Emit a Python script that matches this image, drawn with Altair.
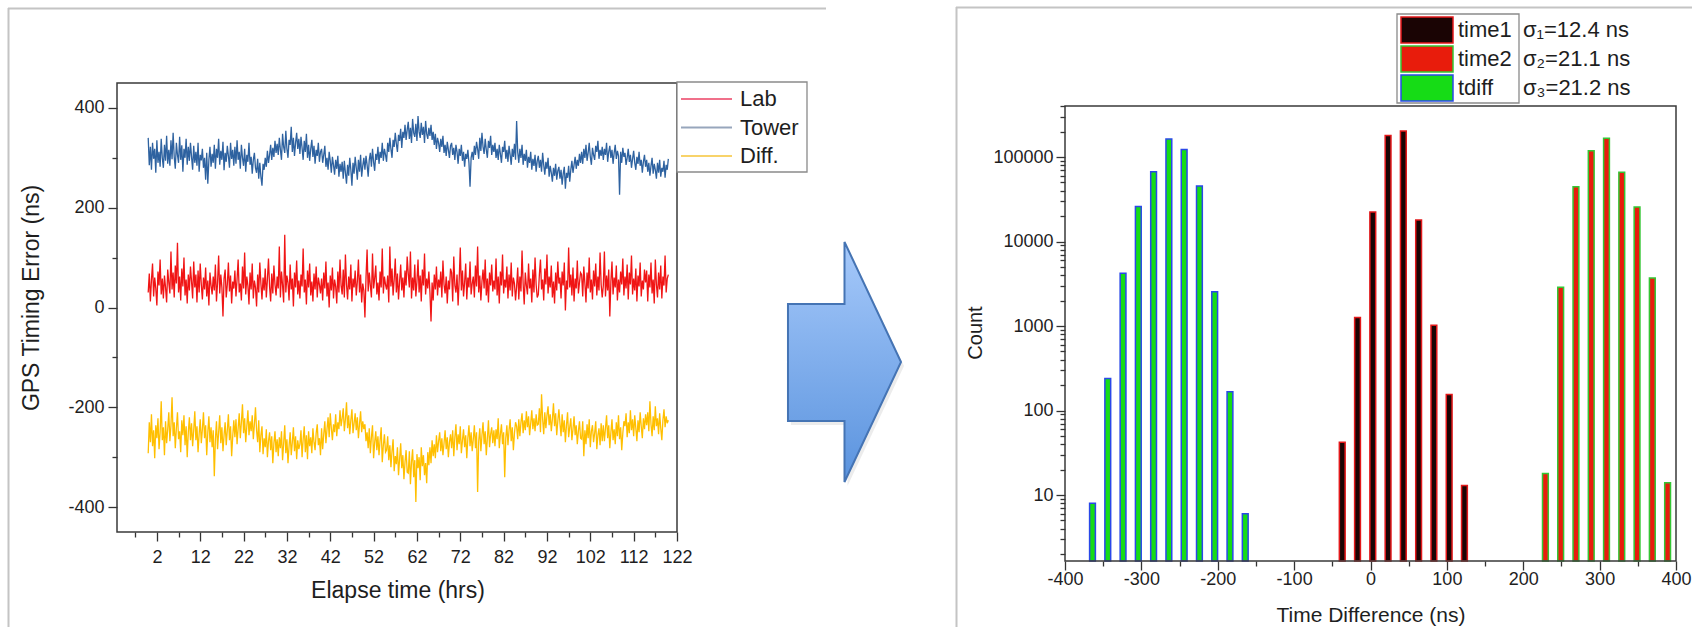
import altair as alt
import pandas as pd

W, H = 1692, 627
FONT = "Liberation Sans"
INK = "#1e1e1e"

# ---------------- left panel: GPS timing error, one sample every 0.25 h ----------------
tower = [
    340, 285, 322, 276, 330, 298, 318, 270, 335, 290, 312, 282, 338, 300, 280, 326, 294, 344, 288, 316,
    284, 335, 297, 350, 302, 278, 330, 306, 290, 342, 296, 325, 272, 318, 300, 338, 286, 322, 294, 330,
    302, 276, 324, 290, 312, 284, 330, 272, 306, 295, 318, 280, 300, 256, 310, 248, 296, 322, 282, 308,
    290, 326, 278, 318, 300, 338, 286, 314, 296, 332, 275, 310, 292, 324, 304, 280, 330, 298, 316, 284,
    322, 288, 335, 296, 312, 278, 326, 300, 284, 318, 272, 306, 292, 330, 286, 302, 268, 296, 310, 280,
    270, 298, 258, 290, 262, 244, 288, 276, 300, 282, 314, 290, 306, 326, 296, 320, 302, 334, 310, 328,
    306, 340, 316, 296, 348, 322, 310, 354, 318, 300, 336, 326, 362, 312, 340, 304, 330, 350, 318, 338,
    308, 342, 320, 296, 334, 312, 348, 300, 326, 294, 318, 336, 302, 324, 288, 316, 304, 330, 292, 312,
    318, 290, 306, 324, 282, 300, 276, 312, 294, 270, 302, 286, 266, 296, 278, 304, 262, 288, 272, 292,
    258, 294, 270, 248, 286, 264, 300, 276, 244, 290, 268, 302, 280, 256, 296, 272, 306, 262, 284, 300,
    276, 304, 286, 262, 296, 310, 282, 318, 292, 274, 308, 296, 322, 288, 312, 300, 330, 294, 318, 306,
    292, 330, 312, 340, 318, 300, 336, 322, 350, 328, 312, 346, 334, 358, 320, 352, 340, 366, 336, 356,
    372, 338, 360, 330, 378, 350, 342, 368, 334, 384, 352, 340, 370, 346, 362, 330, 374, 348, 338, 360,
    344, 366, 336, 352, 326, 348, 318, 340, 330, 312, 338, 322, 344, 310, 326, 304, 332, 316, 300, 324,
    330, 306, 320, 296, 326, 312, 288, 318, 304, 326, 294, 312, 282, 308, 298, 316, 290, 242, 300, 312,
    296, 324, 306, 332, 318, 298, 340, 314, 350, 322, 308, 338, 316, 300, 334, 320, 344, 306, 326, 312,
    330, 300, 318, 296, 326, 308, 290, 322, 312, 334, 298, 316, 292, 324, 306, 286, 318, 302, 328, 296,
    374, 312, 290, 318, 300, 326, 286, 308, 294, 316, 280, 302, 290, 312, 276, 298, 284, 306, 272, 294,
    304, 280, 296, 272, 310, 286, 266, 292, 278, 300, 262, 284, 270, 252, 280, 264, 288, 256, 274, 282,
    258, 276, 246, 268, 282, 238, 270, 260, 284, 252, 276, 294, 270, 286, 302, 278, 296, 284, 308, 290,
    312, 288, 318, 300, 326, 294, 310, 330, 302, 286, 320, 306, 296, 324, 312, 334, 298, 316, 304, 322,
    296, 318, 306, 330, 292, 312, 324, 300, 316, 288, 310, 326, 298, 314, 304, 226, 312, 290, 320, 302,
    310, 286, 300, 318, 292, 306, 280, 298, 314, 290, 276, 302, 288, 312, 284, 296, 270, 292, 306, 282,
    296, 272, 290, 264, 284, 300, 268, 288, 276, 258, 290, 270, 296, 262, 280, 272, 294, 260, 286, 276,
    298,
]

lab = [
    30, 68, 12, 55, 88, 22, 60, 38, 4, 72, 44, 96, 26, 58, 18, 64, 40, 10, 76, 50,
    28, 112, 36, 70, 20, 84, 48, 130, 30, 62, 14, 78, 42, 100, 24, 56, 8, 66, 34, 82,
    52, 18, 92, 40, 66, 10, 74, 30, 88, 46, 16, 60, 36, 80, 22, 54, 4, 70, 44, 26,
    62, 34, 86, 12, 50, 104, 28, 66, 40, -18, 58, 76, 20, 46, 90, 32, 64, 8, 52, 38,
    74, 22, 56, 96, 30, 48, 14, 82, 38, 110, 26, 62, 44, 6, 70, 36, 88, 18, 54, 40,
    2, 66, 30, 90, 48, 16, 60, 34, 78, 20, 56, 98, 42, 12, 68, 28, 84, 46, 24, 62,
    38, 122, 20, 72, 44, 10, 146, 30, 64, 50, 14, 86, 36, 58, 2, 70, 40, 94, 26, 54,
    18, 66, 42, 118, 30, 56, 6, 74, 40, 88, 24, 52, 12, 68, 36, 82, 20, 60, 46, 28,
    58, 14, 70, 38, 92, 22, 50, 0, 64, 34, 80, 18, 56, 42, 8, 72, 30, 96, 44, 26,
    76, 20, 106, 46, 16, 62, 36, 86, 12, 58, 40, 74, 24, 52, 96, 30, 66, 10, 48, 34,
    -20, 60, 116, 32, 70, 44, 20, 108, 38, 58, 84, 26, 50, 14, 72, 40, 118, 28, 62, 46,
    36, 64, 10, 122, 42, 78, 24, 56, 98, 30, 68, 16, 52, 86, 34, 60, 20, 74, 44, 102,
    68, 40, 112, 18, 60, 34, 86, 22, 52, 96, 30, 64, 12, 76, 44, 108, 26, 58, 38, 72,
    30, -28, 50, 14, 66, 36, 82, 24, 56, 40, 72, 20, 94, 46, 28, 62, 8, 54, 36, 78,
    70, 12, 102, 44, 30, 66, 4, 56, 120, 34, 74, 22, 50, 88, 16, 60, 40, 92, 26, 48,
    62, 20, 84, 42, 122, 30, 64, 14, 52, 76, 38, 96, 24, 58, 10, 70, 44, 86, 32, 54,
    36, 98, 24, 62, 8, 72, 44, 106, 28, 56, 40, 82, 18, 66, 34, 90, 22, 60, 48, 14,
    42, 80, 16, 62, 32, 114, 48, 6, 70, 44, 26, 88, 38, 58, 10, 76, 30, 100, 46, 20,
    26, 66, 96, 36, 56, 14, 78, 46, 106, 28, 62, 40, 84, 20, 52, 8, 70, 34, 92, 48,
    60, 18, 72, 44, 90, -6, 54, 36, 120, 40, 66, 24, 80, 12, 58, 38, 94, 28, 50, 70,
    66, 22, 82, 48, 10, 70, 38, 100, 30, 56, 16, 74, 42, 88, 24, 62, 34, 110, 46, 20,
    44, 112, 22, 64, 34, 76, -18, 52, 92, 26, 60, 40, 84, 14, 56, 30, 72, 46, 98, 24,
    62, 38, 86, 16, 70, 46, 104, 26, 58, 34, 78, 12, 64, 42, 90, 22, 54, 36, 76, 50,
    74, 12, 66, 40, 90, 28, 56, 8, 96, 46, 20, 70, 36, 84, 18, 62, 44, 104, 30, 58,
    66,
]

diff = [
    -292, -230, -270, -214, -278, -246, -302, -236, -262, -222, -284, -250, -188, -266, -240, -296, -228, -272, -244, -210,
    -268, -236, -180, -258, -230, -282, -242, -210, -264, -248, -290, -226, -256, -216, -276, -238, -300, -250, -220, -266,
    -232, -278, -246, -208, -266, -238, -290, -254, -224, -272, -244, -210, -262, -236, -296, -250, -218, -270, -240, -280,
    -246, -338, -264, -228, -284, -250, -216, -272, -240, -288, -256, -230, -276, -246, -214, -266, -238, -298, -258, -226,
    -260, -224, -274, -242, -212, -262, -230, -194, -252, -222, -270, -238, -206, -256, -228, -248, -216, -264, -234, -200,
    -246, -270, -226, -290, -256, -238, -294, -262, -280, -244, -300, -268, -250, -286, -258, -312, -272, -248, -290, -264,
    -298, -260, -282, -248, -306, -272, -236, -292, -264, -312, -278, -250, -296, -270, -240, -288, -258, -304, -266, -284,
    -274, -246, -300, -264, -238, -290, -256, -304, -248, -278, -260, -292, -242, -270, -286, -252, -234, -276, -262, -296,
    -242, -284, -254, -228, -272, -244, -220, -260, -212, -242, -266, -234, -250, -214, -258, -230, -244, -206, -238, -222,
    -202, -248, -224, -190, -242, -216, -254, -226, -204, -252, -232, -212, -246, -220, -262, -234, -208, -250, -228, -244,
    -234, -268, -250, -282, -242, -292, -260, -236, -302, -270, -248, -286, -258, -296, -266, -240, -310, -276, -254, -290,
    -286, -258, -306, -276, -320, -288, -264, -328, -298, -314, -280, -336, -304, -272, -322, -296, -344, -310, -286, -330,
    -332, -288, -354, -310, -284, -340, -306, -390, -294, -322, -300, -346, -280, -318, -296, -336, -312, -352, -290, -316,
    -280, -312, -266, -298, -274, -302, -256, -290, -268, -250, -288, -262, -296, -272, -246, -284, -260, -300, -270, -254,
    -282, -246, -298, -260, -234, -286, -254, -274, -238, -292, -266, -244, -280, -256, -302, -262, -236, -278, -250, -288,
    -264, -236, -282, -250, -370, -268, -242, -288, -256, -230, -274, -248, -296, -262, -226, -280, -254, -240, -272, -246,
    -278, -244, -264, -222, -282, -254, -234, -274, -250, -340, -262, -236, -276, -246, -224, -268, -240, -286, -252, -230,
    -238, -264, -224, -258, -230, -212, -252, -226, -246, -208, -240, -218, -256, -232, -206, -244, -222, -248, -214, -236,
    -234, -202, -250, -174, -224, -254, -210, -242, -216, -198, -236, -214, -248, -224, -192, -238, -212, -256, -228, -204,
    -232, -258, -214, -250, -226, -270, -236, -210, -260, -240, -222, -266, -244, -218, -256, -236, -274, -248, -228, -262,
    -264, -228, -298, -246, -274, -234, -262, -224, -280, -248, -236, -270, -252, -228, -284, -256, -242, -276, -232, -268,
    -236, -268, -242, -216, -262, -236, -282, -250, -224, -266, -244, -274, -230, -258, -216, -264, -240, -286, -252, -228,
    -238, -212, -260, -230, -252, -206, -246, -224, -258, -216, -242, -268, -226, -250, -210, -238, -262, -222, -244, -214,
    -236, -210, -248, -188, -234, -258, -218, -246, -198, -238, -222, -254, -212, -242, -266, -226, -204, -240, -218, -232,
    -226,
]

SAMPLE_STEP_H = 0.25
series_names = ["Lab", "Tower", "Diff."]
series_colors = ["#f01515", "#2e62a0", "#ffbf00"]
legend_line_colors = ["#f0708a", "#97a6bc", "#f8d36a"]

# ---------------- right panel: histogram of time differences ----------------
tdiff_centers = [-364, -344, -324, -304, -284, -264, -244, -224, -204, -184, -164]
tdiff_counts = [8, 240, 4200, 26000, 67000, 163000, 123000, 45500, 2550, 167, 6]
time1_centers = [-37, -17, 3, 23, 43, 63, 83, 103, 123]
time1_counts = [42, 1260, 22400, 180000, 203000, 18000, 1020, 155, 13]
time2_centers = [229, 249, 269, 289, 309, 329, 349, 369, 389]
time2_counts = [18, 2880, 44600, 119000, 167000, 66000, 25600, 3700, 14]

hist_names = ["time1", "time2", "tdiff"]
hist_fill = ["#1a0404", "#e81c0c", "#16dc16"]
hist_edge = ["#e3191b", "#34c634", "#2a48e8"]
sigma_text = ["σ₁=12.4 ns", "σ₂=21.1 ns", "σ₃=21.2 ns"]

COUNT_FLOOR = 1.656
BAR_HALF = 3.8

# plot-area pixel boxes
LX0, LX1, LY0, LY1 = 117, 677, 83, 532
RX0, RX1, RY0, RY1 = 1065, 1676, 106, 561

one = alt.Data(values=[{}])

frames = []
for name, vals in zip(series_names, [lab, tower, diff]):
    frames.append(pd.DataFrame({
        "t": [i * SAMPLE_STEP_H for i in range(len(vals))],
        "v": vals,
        "series": name,
    }))
lines_df = pd.concat(frames, ignore_index=True)

rows = []
for name, centers, counts in [
    ("time1", time1_centers, time1_counts),
    ("time2", time2_centers, time2_counts),
    ("tdiff", tdiff_centers, tdiff_counts),
]:
    for c, n in zip(centers, counts):
        rows.append({"series": name, "x0": c - BAR_HALF, "x1": c + BAR_HALF,
                     "count": n, "floor": COUNT_FLOOR})
bars_df = pd.DataFrame(rows)


def make_axis(orient, offset, values, major_test, pad, tick_major=9, tick_minor=5):
    return alt.Axis(
        orient=orient, offset=offset, values=values,
        labelExpr=f"({major_test}) ? '' + datum.value : ''",
        tickSize={"condition": {"test": major_test, "value": tick_major}, "value": tick_minor},
        tickColor="#333333", tickWidth=1.3, domain=False, grid=False, title=None,
        labelFont=FONT, labelFontSize=18, labelColor=INK, labelPadding=pad,
        labelOverlap=False, labelFlush=False,
    )


def text(s, x, y, size, angle=0, align="center"):
    return alt.Chart(one).mark_text(
        text=s, font=FONT, fontSize=size, color=INK, angle=angle,
        align=align, baseline="middle",
    ).encode(x=alt.value(x), y=alt.value(y))


def rule(x, y, x2=None, y2=None, color="#c4c4c4", width=2.0):
    enc = {"x": alt.value(x), "y": alt.value(y)}
    if x2 is not None:
        enc["x2"] = alt.value(x2)
    if y2 is not None:
        enc["y2"] = alt.value(y2)
    return alt.Chart(one).mark_rule(color=color, strokeWidth=width).encode(**enc)


def box(x0, x1, y0, y1, stroke, width, fill="white", fill_opacity=0.0):
    return alt.Chart(one).mark_rect(
        fill=fill, fillOpacity=fill_opacity, stroke=stroke, strokeWidth=width,
    ).encode(x=alt.value(x0), x2=alt.value(x1), y=alt.value(y0), y2=alt.value(y1))


layers = []

# light outlines of the two panels
layers += [
    rule(8, 8.5, x2=826),
    rule(8.5, 8, y2=H),
    rule(956, 7.5, x2=W),
    rule(956.5, 7, y2=H),
]

# ---- left panel ----
left_x_vals = list(range(-3, 123, 5))
left_y_vals = list(range(-400, 401, 100))
lines = alt.Chart(lines_df).mark_line(strokeWidth=1.3).encode(
    x=alt.X("t:Q", scale=alt.Scale(domain=[-7.2, 122], range=[LX0, LX1], nice=False, zero=False),
            axis=make_axis("bottom", LY1 - H, left_x_vals, "(datum.value + 8) % 10 == 0", 7)),
    y=alt.Y("v:Q", scale=alt.Scale(domain=[-450, 450], range=[LY1, LY0], nice=False, zero=False),
            axis=make_axis("left", -LX0, left_y_vals, "datum.value % 200 == 0", 4)),
    color=alt.Color("series:N", scale=alt.Scale(domain=series_names, range=series_colors), legend=None),
)
layers += [lines, box(LX0, LX1, LY0, LY1, "#3a3a3a", 1.5)]

# left legend
layers.append(box(677, 807, 82, 172, "#8a8a8a", 1.3, fill_opacity=1.0))
for i, (name, col) in enumerate(zip(series_names, legend_line_colors)):
    y = 99 + 28.5 * i
    layers.append(rule(681, y, x2=732, color=col, width=1.8))
    layers.append(text(name, 740, y, 22, align="left"))

layers.append(text("GPS Timing Error (ns)", 32, 298, 23, angle=270))
layers.append(text("Elapse time (hrs)", 398, 591, 23))

# ---- arrow between the panels ----
arrow_shape = ("M -0.471 -0.483 L 0 -0.483 L 0 -1 L 0.471 0 L 0 1 "
               "L 0 0.492 L -0.471 0.492 Z")
arrow_fill = alt.LinearGradient(
    gradient="linear",
    stops=[alt.GradientStop(color="#a6c9fa", offset=0),
           alt.GradientStop(color="#5a93de", offset=1)],
    x1=0, x2=0, y1=0, y2=1,
)
layers.append(
    alt.Chart(one).mark_point(
        shape=arrow_shape, size=57600, filled=True, fill="#c8c8c8",
        opacity=0.35, strokeWidth=0,
    ).encode(x=alt.value(847.5), y=alt.value(366))
)
layers.append(
    alt.Chart(one).mark_point(
        shape=arrow_shape, size=57600, filled=True, fill=arrow_fill,
        stroke="#4574b4", strokeWidth=2, opacity=1,
    ).encode(x=alt.value(844.5), y=alt.value(362))
)

# ---- right panel ----
right_x_vals = list(range(-400, 401, 50))
right_y_vals = [m * 10 ** k for k in range(0, 6) for m in range(1, 10)
                if COUNT_FLOOR <= m * 10 ** k <= 400000]
bars = alt.Chart(bars_df).mark_rect(strokeWidth=1.5).encode(
    x=alt.X("x0:Q", scale=alt.Scale(domain=[-400, 400], range=[RX0, RX1], nice=False, zero=False),
            axis=make_axis("bottom", RY1 - H, right_x_vals, "datum.value % 100 == 0", 0)),
    x2="x1:Q",
    y=alt.Y("count:Q", scale=alt.Scale(type="log", domain=[COUNT_FLOOR, 401500], range=[RY1, RY0], nice=False),
            axis=make_axis("left", -RX0, right_y_vals,
                           "indexof([10, 100, 1000, 10000, 100000], datum.value) >= 0", 3)),
    y2="floor:Q",
    fill=alt.Fill("series:N", scale=alt.Scale(domain=hist_names, range=hist_fill), legend=None),
    stroke=alt.Stroke("series:N", scale=alt.Scale(domain=hist_names, range=hist_edge), legend=None),
)
layers += [bars, box(RX0, RX1, RY0, RY1, "#3a3a3a", 1.5)]

# right legend
layers.append(box(1397, 1519, 14, 103, "#8a8a8a", 1.3, fill_opacity=1.0))
for i in range(3):
    y0 = 17 + 29 * i
    layers.append(alt.Chart(one).mark_rect(
        fill=hist_fill[i], stroke=hist_edge[i], strokeWidth=1.5,
    ).encode(x=alt.value(1401), x2=alt.value(1453), y=alt.value(y0), y2=alt.value(y0 + 26)))
    layers.append(text(hist_names[i], 1458, y0 + 13, 22, align="left"))
    layers.append(text(sigma_text[i], 1523, y0 + 13, 22, align="left"))

layers.append(text("Count", 976, 333, 20, angle=270))
layers.append(text("Time Difference (ns)", 1371, 616, 21))

chart = alt.layer(*layers).resolve_scale(
    x="independent", y="independent", color="independent",
    fill="independent", stroke="independent",
).resolve_axis(
    x="independent", y="independent",
).properties(
    width=W, height=H, padding=0, background="white",
    autosize=alt.AutoSizeParams(type="none"),
).configure_view(strokeWidth=0)

chart.save("out.html", embed_options={"renderer": "svg", "actions": False})
